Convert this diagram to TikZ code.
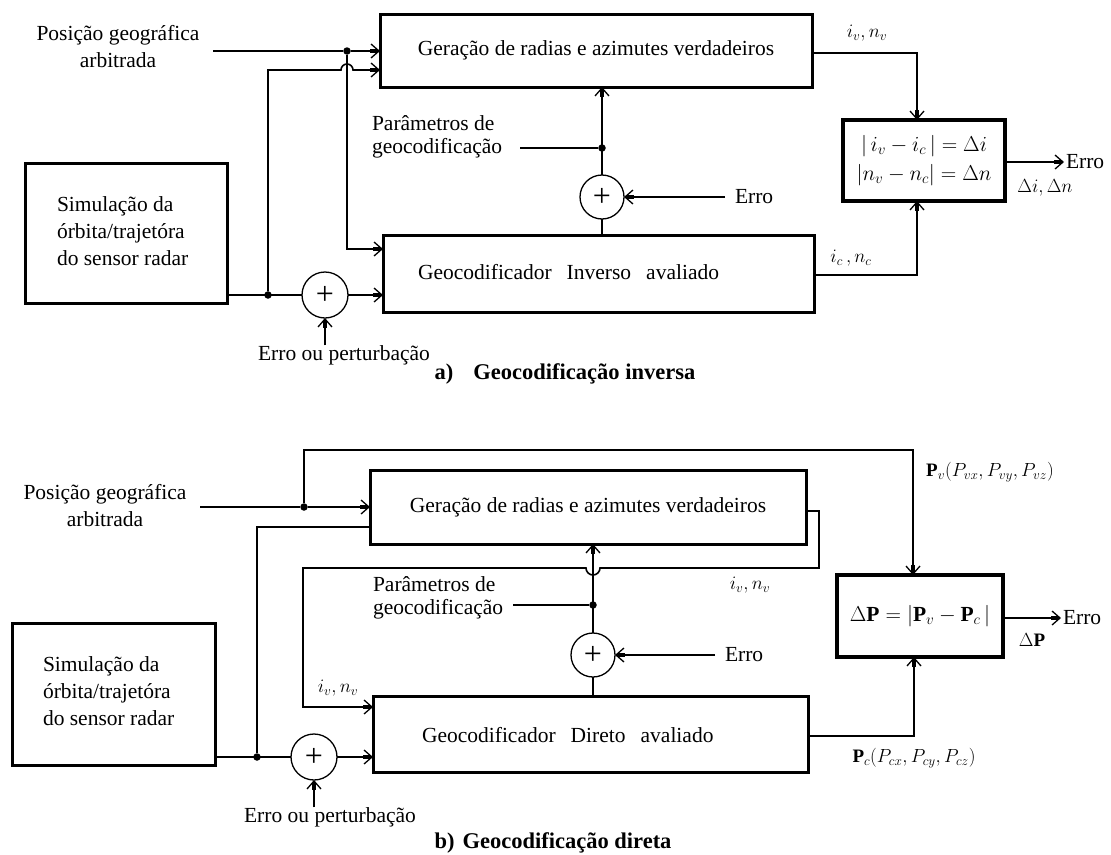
\RequirePackage{fix-cm}
\documentclass[tikz,border=0pt]{standalone}
\usepackage{fontspec}
\setmainfont{Liberation Serif}
\usetikzlibrary{arrows.meta}
\begin{document}
\begin{tikzpicture}[x=1pt,y=-1pt, line width=1.6pt,
  every node/.style={inner sep=0pt, outer sep=0pt},
  txt/.style={font=\fontsize{21.5}{27}\selectfont},
  lbl/.style={font=\fontsize{19}{22}\selectfont},
  captxt/.style={font=\fontsize{22.5}{26}\selectfont\bfseries},
  box/.style={draw, line width=3pt, txt},
  cmp/.style={draw, line width=4pt, txt, align=center},
  sum/.style={draw, circle, line width=1.3pt, minimum size=44pt, font=\fontsize{32}{32}\selectfont},
  dot/.style={circle, fill, minimum size=7.5pt},
  arr/.style={-{Rectangle[length=8pt,width=4.5pt,sep=-7.5pt] Straight Barb[length=8pt,width=14pt,line width=1.3pt]}},
]
\path[use as bounding box] (0,0) rectangle (1111,854);

% ================= (a) =================
\node[txt, align=center] (posA) at (118,46.5) {Posição geográfica\\arbitrada};
\coordinate (pinA) at (213,51);
\node[box, minimum width=432, minimum height=73] (g1) at (596,50.5) {Geração de radias e azimutes verdadeiros};
\node[box, minimum width=431, minimum height=77] (inv) at (598.5,273.5) {};
\node[txt, anchor=west] (invt) at (418,272) {Geocodificador\hspace{15pt}Inverso\hspace{15pt}avaliado};
\node[cmp, minimum width=162, minimum height=81] (cmpA) at (924,160.5) {$|\,i_v - i_c\,| = \Delta i$\\[2pt]$|n_v - n_c| = \Delta n$};
\node[box, minimum width=202, minimum height=140] (simA) at (126,233) {};
\node[txt, align=left, anchor=west] (simAt) at (57,231) {Simulação da\\órbita/trajetóra\\do sensor radar};
\node[sum] (sA1) at (602,197) {+};
\node[sum, minimum size=46] (sA2) at (325,295) {+};
\node[dot] (dA1) at (347,51) {};
\node[dot] (dA2) at (268,295) {};
\node[dot] (dA3) at (602,148) {};
\node[txt, align=left, anchor=west] (parA) at (372,137) {Parâmetros de\\[-4pt]geocodificação};
\coordinate (parAend) at (520,148);
\node[txt, anchor=west] (erA1) at (735,197) {Erro};
\node[txt] (epA) at (344,355) {Erro ou perturbação};
\node[lbl] (ivA) at (867,33) {$i_v, n_v$};
\node[lbl] (icA) at (851,258) {$i_c\,, n_c$};
\node[txt, anchor=west] (erA2) at (1066,162) {Erro};
\node[lbl] (diA) at (1045,188) {$\Delta i, \Delta n$};
\node[captxt] (capA) at (565,374) {a)\hspace{20pt}Geocodificação inversa};

\coordinate (yA70) at (0,70);
\draw[arr] (pinA) -- (dA1) -- (dA1 -| g1.west);
\draw[arr] (dA1) |- ([yshift=24.5pt]inv.west);
\draw[arr] (dA2) -- (dA2 |- yA70) -- ([xshift=-6pt]dA1 |- yA70)
  arc[start angle=180, end angle=0, radius=6pt] -- (g1.west |- yA70);
\draw (simA.east |- dA2) -- (sA2.west);
\draw[arr] (sA2.east) -- (inv.west |- sA2);
\draw[arr] (sA2.south |- epA.north) -- (sA2.south);
\draw[arr] (sA1.north) -- (g1.south -| sA1);
\draw (parAend) -- (dA3);
\draw (sA1.south) -- (inv.north -| sA1);
\draw[arr] ([xshift=-10pt]erA1.west) -- (sA1.east);
\draw[arr] ([yshift=-2.5pt]g1.east) -| ([xshift=-7pt]cmpA.north);
\draw[arr] ([yshift=-1.5pt]inv.east) -| ([xshift=-7pt]cmpA.south);
\draw[arr] ([yshift=-1.5pt]cmpA.east) -- ([xshift=-2pt]erA2.west);

% ================= (b) =================
\node[txt, align=center] (posB) at (105,505.5) {Posição geográfica\\arbitrada};
\coordinate (pinB) at (200,507);
\node[box, minimum width=436, minimum height=74] (g2) at (588,507) {Geração de radias e azimutes verdadeiros};
\node[box, minimum width=435, minimum height=76] (dir) at (590.5,734) {};
\node[txt, anchor=west] (dirt) at (422,735) {Geocodificador\hspace{15pt}Direto\hspace{15pt}avaliado};
\node[cmp, minimum width=166, minimum height=82] (cmpB) at (920,616) {$\Delta\mathbf{P} = |\mathbf{P}_v - \mathbf{P}_c\,|$};
\node[box, minimum width=203, minimum height=142] (simB) at (113.5,694) {};
\node[txt, align=left, anchor=west] (simBt) at (43,691) {Simulação da\\órbita/trajetóra\\do sensor radar};
\node[sum] (sB1) at (593,655) {+};
\node[sum, minimum size=46] (sB2) at (314,757) {+};
\node[dot] (dB1) at (304,507) {};
\node[dot] (dB2) at (257,757) {};
\node[dot] (dB3) at (593,605) {};
\node[txt, align=left, anchor=west] (parB) at (373,598) {Parâmetros de\\[-4pt]geocodificação};
\coordinate (parBend) at (513,605);
\node[txt, anchor=west] (erB1) at (725,655) {Erro};
\node[txt] (epB) at (330,817) {Erro ou perturbação};
\node[lbl] (pvB) at (990,472) {$\mathbf{P}_v(P_{vx}, P_{vy}, P_{vz})$};
\node[lbl] (ivB1) at (750,585) {$i_v, n_v$};
\node[lbl] (ivB2) at (338,688) {$i_v, n_v$};
\node[lbl] (dpB) at (1032,640) {$\Delta\mathbf{P}$};
\node[lbl] (pcB) at (914,758) {$\mathbf{P}_c(P_{cx}, P_{cy}, P_{cz})$};
\node[txt, anchor=west] (erB2) at (1063,618) {Erro};
\node[captxt] (capB) at (553,843) {b)\hspace{8pt}Geocodificação direta};

\coordinate (yB450) at (0,450);
\coordinate (yB527) at (0,527);
\coordinate (yB568) at (0,568);
\coordinate (xB819) at (819,0);
\coordinate (xB303) at (303,0);
\draw[arr] (pinB) -- (dB1) -- (dB1 -| g2.west);
\draw[arr] (dB1) -- (dB1 |- yB450) -| ([xshift=-7pt]cmpB.north);
\draw (dB2) -- (dB2 |- yB527) -- (g2.west |- yB527);
\draw[arr] ([yshift=-4pt]g2.east) -| (xB819 |- yB568) -- ([xshift=7pt]dB3 |- yB568)
  arc[start angle=0, end angle=-180, radius=7pt] -- (xB303 |- yB568) |- ([yshift=27pt]dir.west);
\draw (simB.east |- dB2) -- (sB2.west);
\draw[arr] (sB2.east) -- (dir.west |- sB2);
\draw[arr] (sB2.south |- epB.north) -- (sB2.south);
\draw[arr] (sB1.north) -- (g2.south -| sB1);
\draw (parBend) -- (dB3);
\draw (sB1.south) -- (dir.north -| sB1);
\draw[arr] ([xshift=-10pt]erB1.west) -- (sB1.east);
\draw[arr] ([yshift=-2pt]dir.east) -| ([xshift=-6pt]cmpB.south);
\draw[arr] ([yshift=-2pt]cmpB.east) -- ([xshift=-2pt]erB2.west);
\end{tikzpicture}
\end{document}
